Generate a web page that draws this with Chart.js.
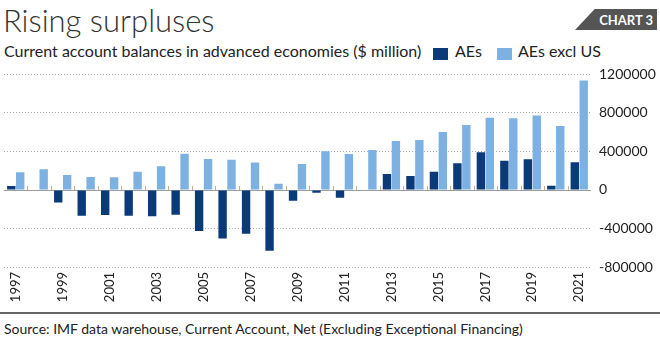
<!DOCTYPE html>
<html>
<head>
<meta charset="utf-8">
<script src="https://cdn.jsdelivr.net/npm/chart.js@4.4.0/dist/chart.umd.min.js"></script>
<style>
  body { margin: 0; background: #fff; font-family: Lato, "Open Sans", sans-serif; color: #222; }
  #wrap { position: relative; width: 660px; height: 344px; overflow: hidden; }
  #title { position: absolute; left: 3px; top: 1px; font-size: 31px; font-weight: 300; color: #333; }
  #badge { position: absolute; left: 575px; top: 9px; width: 82px; height: 21px; background: #555;
           clip-path: polygon(24% 0, 100% 0, 100% 100%, 0 100%); }
  #badge span { position: absolute; right: 4px; top: 3px; color: #fff; font-size: 13px; font-weight: 700; }
  #sub { position: absolute; left: 4px; top: 41px; font-size: 16px; color: #222; }
  .sw { position: absolute; top: 48px; width: 15px; height: 12px; }
  .lg { position: absolute; top: 41px; font-size: 16px; color: #222; }
  #chartBox { position: absolute; left: 0; top: 58px; width: 660px; height: 254px; }
  #rule { position: absolute; left: 0; top: 312px; width: 660px; height: 2px; background: #666; }
  #src { position: absolute; left: 4px; top: 320px; font-size: 14px; color: #222; }
</style>
</head>
<body>
<div id="wrap">
  <div id="title">Rising surpluses</div>
  <div id="badge"><span>CHART 3</span></div>
  <div id="sub">Current account balances in advanced economies ($ million)</div>
  <div class="sw" style="left:433px;background:#0b3a78"></div>
  <div class="lg" style="left:455px">AEs</div>
  <div class="sw" style="left:497px;background:#7cb1e2"></div>
  <div class="lg" style="left:518px">AEs excl US</div>
  <div id="chartBox"><canvas id="modelChart"></canvas></div>
  <div id="rule"></div>
  <div id="src">Source: IMF data warehouse, Current Account, Net (Excluding Exceptional Financing)</div>
</div>
<script>
// years 1997 - 2021
var years = ["1997","1998","1999","2000","2001","2002","2003","2004","2005","2006","2007","2008","2009",
  "2010","2011","2012","2013","2014","2015","2016","2017","2018","2019","2020","2021"];
var aes = [42000, 0, -129000, -267000, -260000, -267000, -274000, -257000, -426000, -503000, -454000, -631000, -111000,
  -28000, -80000, 0, 166000, 145000, 190000, 277000, 391000, 304000, 318000, 45000, 287000];
var aesExclUS = [183000, 214000, 156000, 135000, 131000, 190000, 245000, 377000, 322000, 315000, 284000, 65000, 270000,
  401000, 374000, 416000, 509000, 520000, 603000, 675000, 751000, 744000, 772000, 665000, 1136000];
var yTicks = [-800000, -400000, 0, 400000, 800000, 1200000];

var zeroLine = {
  id: "zeroLine",
  beforeDatasetsDraw: function (chart) {
    var c = chart.ctx, a = chart.chartArea;
    var y0 = chart.scales.y.getPixelForValue(0);
    c.save();
    c.strokeStyle = "#9a9a9a";
    c.lineWidth = 1;
    c.beginPath();
    c.moveTo(a.left, y0 + 0.5);
    c.lineTo(a.right, y0 + 0.5);
    c.stroke();
    var w = (a.right - a.left) / years.length;
    c.strokeStyle = "#c2b08e";
    for (var i = 1; i < years.length; i++) {
      var x = Math.round(a.left + i * w) + 0.5;
      c.beginPath();
      c.moveTo(x, y0);
      c.lineTo(x, y0 - 4);
      c.stroke();
    }
    c.restore();
  }
};

var ctx = document.getElementById("modelChart");
var myChart = new Chart(ctx, {
  type: "bar",
  data: {
    labels: years,
    datasets: [
      { label: "AEs", data: aes, backgroundColor: "#0b3a78" },
      { label: "AEs excl US", data: aesExclUS, backgroundColor: "#7cb1e2" },
    ],
  },
  options: {
    responsive: true,
    maintainAspectRatio: false,
    animation: false,
    layout: { padding: { left: 4, right: 3, top: 8, bottom: 5 } },
    datasets: { bar: { categoryPercentage: 0.76, barPercentage: 0.94 } },
    plugins: { legend: { display: false }, tooltip: { enabled: false } },
    scales: {
      x: {
        grid: { display: false, drawTicks: false },
        border: { display: false },
        ticks: {
          autoSkip: false,
          minRotation: 90,
          maxRotation: 90,
          color: "#222",
          font: { family: "Lato", size: 13 },
          padding: 5,
          callback: function (v, i) { return i % 2 === 0 ? years[i] : ""; },
        },
        afterFit: function (s) { s.height = 40; },
      },
      y: {
        position: "right",
        min: -800000,
        max: 1200000,
        afterBuildTicks: function (s) { s.ticks = yTicks.map(function (v) { return { value: v }; }); },
        grid: {
          color: function (c) { return c.tick && c.tick.value === 0 ? "rgba(0,0,0,0)" : "#a8a8a8"; },
          drawTicks: false,
        },
        border: { display: false, dash: [1, 2] },
        ticks: {
          color: "#222",
          font: { family: "Lato", size: 14 },
          padding: 8,
          callback: function (v) { return String(v); },
        },
        afterFit: function (s) { s.width = 66; },
      },
    },
  },
  plugins: [zeroLine],
});
</script>
</body>
</html>
